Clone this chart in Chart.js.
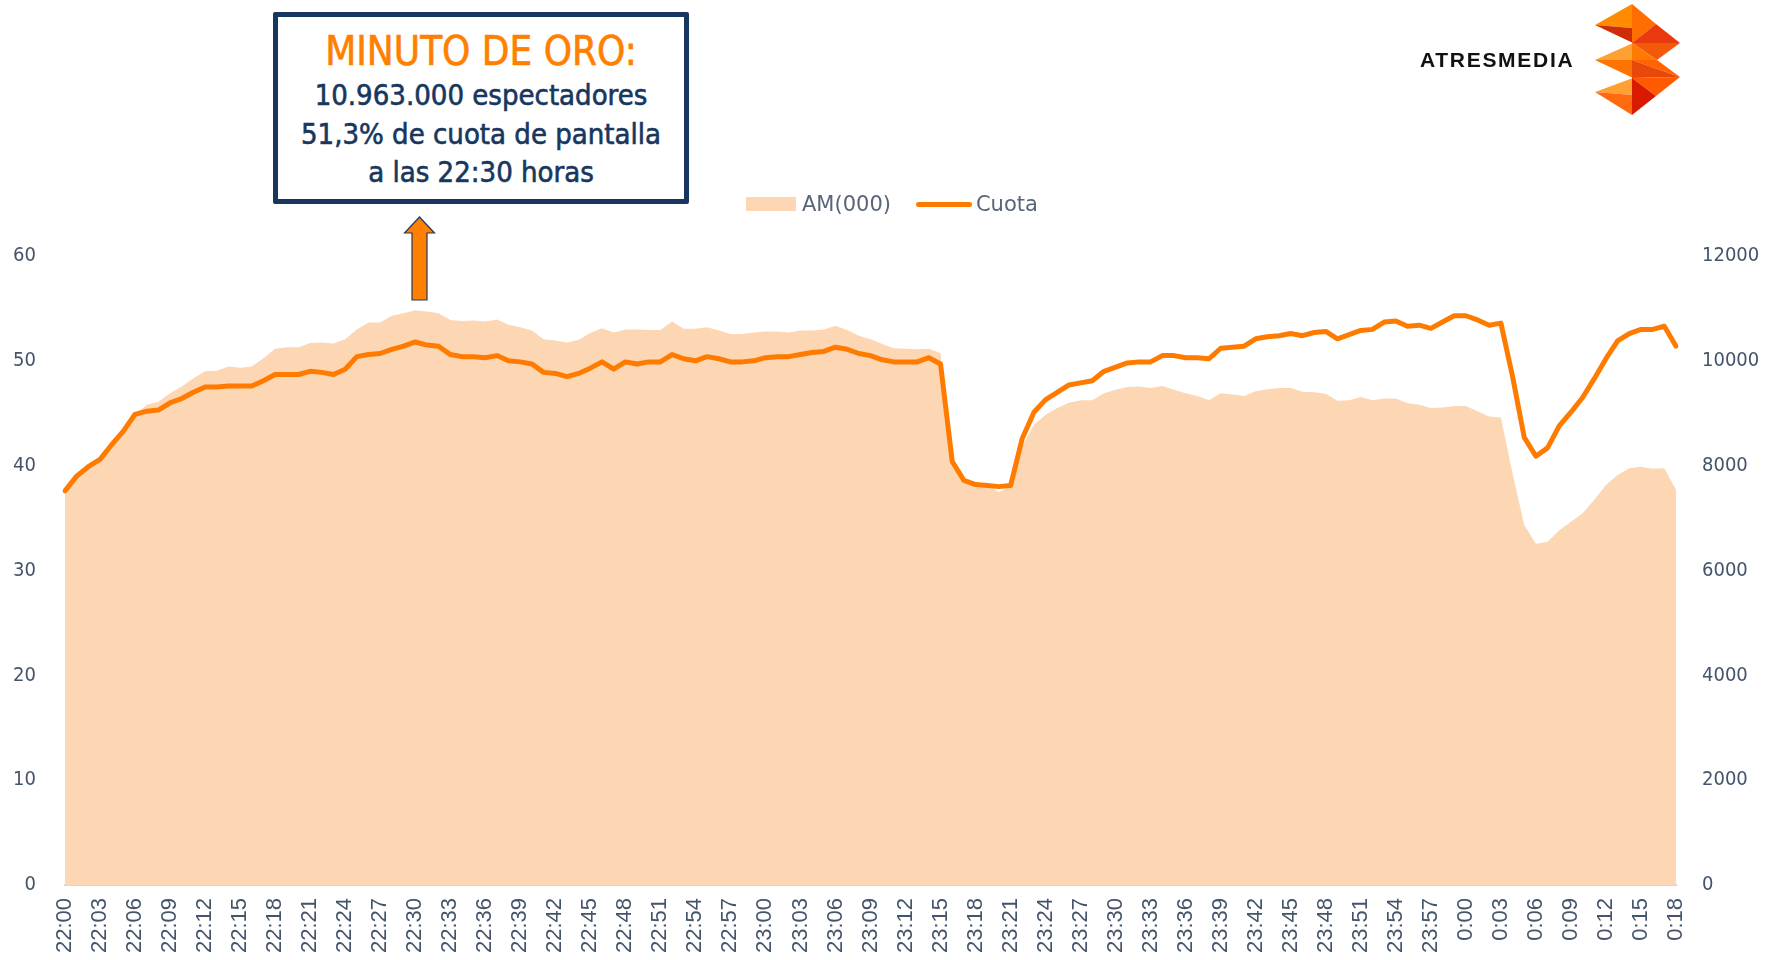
<!DOCTYPE html>
<html><head><meta charset="utf-8">
<script src="https://cdn.jsdelivr.net/npm/chart.js@4.4.1/dist/chart.umd.min.js"></script>
<style>
html,body{margin:0;padding:0;background:#fff;}
#wrap{position:relative;width:1767px;height:960px;overflow:hidden;background:#fff;}
#c{position:absolute;left:0;top:0;}
#box{position:absolute;left:273px;top:12px;width:406px;height:182px;border:5px solid #17375E;border-radius:2px;background:#fff;}
.bl{position:absolute;left:0;width:100%;text-align:center;white-space:nowrap;font-family:"DejaVu Sans Condensed","DejaVu Sans",sans-serif;color:#17375E;-webkit-text-stroke:0.6px currentColor;}
#l1{top:11px;font-size:40px;line-height:46px;color:#FF8000;}
#l2{top:60px;font-size:29px;line-height:36px;}
#l3{top:99px;font-size:29px;line-height:36px;}
#l4{top:137px;font-size:29px;line-height:36px;}
#legend{position:absolute;left:746px;top:189px;height:30px;display:flex;align-items:center;font-family:"DejaVu Sans",sans-serif;font-size:21px;color:#596579;}
.li{display:flex;align-items:center;margin-right:25px;}
.sw{margin-right:6px;}
#brand{position:absolute;left:1420px;top:48px;font-family:"Liberation Sans",Arial,sans-serif;font-weight:bold;font-size:21px;letter-spacing:1.7px;color:#111;}
#ov{position:absolute;left:0;top:0;pointer-events:none;}
</style></head><body>
<div id="wrap">
<canvas id="c" width="1767" height="960"></canvas>
<div id="box">
  <div class="bl" id="l1">MINUTO DE ORO:</div>
  <div class="bl" id="l2">10.963.000 espectadores</div>
  <div class="bl" id="l3">51,3% de cuota de pantalla</div>
  <div class="bl" id="l4">a las 22:30 horas</div>
</div>
<div id="legend"></div>
<div id="brand">ATRESMEDIA</div>
<svg id="ov" width="1767" height="960" viewBox="0 0 1767 960">
  <polygon points="419.5,217 434.5,233 427,233 427,300 412,300 412,233 404.5,233" fill="#FF7F00" stroke="#1F3864" stroke-width="1.2"/>
  <g>
    <polygon points="1595,25 1632,4 1632,28" fill="#FF8C00"/>
    <polygon points="1595,25 1632,28 1633,43" fill="#CF2C08"/>
    <polygon points="1595,60 1633,43 1633,60" fill="#FFA033"/>
    <polygon points="1595,60 1633,60 1633,78" fill="#FF7400"/>
    <polygon points="1595,92 1633,78 1633,95" fill="#FFA033"/>
    <polygon points="1595,92 1633,95 1632,115" fill="#FF6A10"/>
    <polygon points="1632,4 1656,24 1632,43" fill="#FF6E00"/>
    <polygon points="1656,24 1680,43 1632,43" fill="#E83A0E"/>
    <polygon points="1632,43 1680,43 1657,60" fill="#F25A0A"/>
    <polygon points="1632,43 1657,60 1632,60" fill="#FF7A00"/>
    <polygon points="1632,60 1657,60 1680,77" fill="#FF6400"/>
    <polygon points="1632,60 1680,77 1632,78" fill="#E8480A"/>
    <polygon points="1632,78 1680,77 1656,96" fill="#FF5A00"/>
    <polygon points="1632,78 1656,96 1632,115" fill="#D81A00"/>
  </g>
</svg>
</div>
<script>
const categories = ["22:00","22:01","22:02","22:03","22:04","22:05","22:06","22:07","22:08","22:09","22:10","22:11","22:12","22:13","22:14","22:15","22:16","22:17","22:18","22:19","22:20","22:21","22:22","22:23","22:24","22:25","22:26","22:27","22:28","22:29","22:30","22:31","22:32","22:33","22:34","22:35","22:36","22:37","22:38","22:39","22:40","22:41","22:42","22:43","22:44","22:45","22:46","22:47","22:48","22:49","22:50","22:51","22:52","22:53","22:54","22:55","22:56","22:57","22:58","22:59",
"23:00","23:01","23:02","23:03","23:04","23:05","23:06","23:07","23:08","23:09","23:10","23:11","23:12","23:13","23:14","23:15","23:16","23:17","23:18","23:19","23:20","23:21","23:22","23:23","23:24","23:25","23:26","23:27","23:28","23:29","23:30","23:31","23:32","23:33","23:34","23:35","23:36","23:37","23:38","23:39","23:40","23:41","23:42","23:43","23:44","23:45","23:46","23:47","23:48","23:49","23:50","23:51","23:52","23:53","23:54","23:55","23:56","23:57","23:58","23:59",
"0:00","0:01","0:02","0:03","0:04","0:05","0:06","0:07","0:08","0:09","0:10","0:11","0:12","0:13","0:14","0:15","0:16","0:17","0:18"];

const audienceAM = [7500,7800,7970,8120,8390,8650,8970,9160,9220,9380,9510,9670,9800,9810,9890,9870,9890,10050,10230,10260,10260,10340,10350,10330,10410,10600,10730,10730,10860,10910,10963,10940,10910,10780,10760,10770,10750,10790,10690,10640,10580,10410,10390,10350,10400,10530,10620,10540,10600,10600,10590,10590,10750,10610,10610,10640,10580,10510,10510,10540,
10560,10560,10540,10580,10580,10600,10670,10590,10480,10410,10320,10240,10230,10220,10230,10150,8080,7710,7650,7620,7500,7600,8360,8780,8970,9100,9200,9250,9250,9380,9450,9500,9510,9480,9520,9450,9380,9330,9250,9380,9360,9330,9420,9460,9480,9480,9410,9400,9370,9240,9250,9310,9250,9280,9280,9190,9160,9100,9110,9140,
9140,9040,8940,8920,7850,6870,6510,6550,6770,6930,7090,7350,7630,7820,7950,7980,7940,7950,7540];

const shareCuota = [37.6,39.0,39.9,40.6,42.0,43.3,44.9,45.2,45.3,46.0,46.4,47.0,47.5,47.5,47.6,47.6,47.6,48.1,48.7,48.7,48.7,49.0,48.9,48.7,49.2,50.4,50.6,50.7,51.1,51.4,51.8,51.5,51.4,50.6,50.4,50.4,50.3,50.5,50.0,49.9,49.7,48.9,48.8,48.5,48.8,49.3,49.9,49.2,49.9,49.7,49.9,49.9,50.6,50.2,50.0,50.4,50.2,49.9,49.9,50.0,
50.3,50.4,50.4,50.6,50.8,50.9,51.3,51.1,50.7,50.5,50.1,49.9,49.9,49.9,50.3,49.7,40.4,38.6,38.2,38.1,38.0,38.1,42.6,45.1,46.3,47.0,47.7,47.9,48.1,49.0,49.4,49.8,49.9,49.9,50.5,50.5,50.3,50.3,50.2,51.2,51.3,51.4,52.1,52.3,52.4,52.6,52.4,52.7,52.8,52.1,52.5,52.9,53.0,53.7,53.8,53.3,53.4,53.1,53.7,54.3,
54.3,53.9,53.4,53.6,48.5,42.7,40.9,41.7,43.8,45.1,46.5,48.3,50.2,51.9,52.6,53.0,53.0,53.3,51.4];

const seriesNames = ["AM(000)", "Cuota"];
const cuotaAxis = [0, 60, 10];      // min, max, step (left axis)
const amAxis = [0, 12000, 2000];    // min, max, step (right axis)
const labelEvery = 3;

const areaColor = "#FDD7B4";
const lineColor = "#FF7B00";
const tickColor = "#44546A";

const chart = new Chart(document.getElementById("c").getContext("2d"), {
  type: "line",
  data: {
    labels: categories,
    datasets: [
      { label: seriesNames[0], data: audienceAM, yAxisID: "yR", fill: "origin",
        backgroundColor: areaColor, borderColor: "rgba(0,0,0,0)", borderWidth: 0,
        pointRadius: 0, tension: 0, order: 2 },
      { label: seriesNames[1], data: shareCuota, yAxisID: "yL", fill: false,
        borderColor: lineColor, borderWidth: 5, pointRadius: 0, tension: 0,
        borderJoinStyle: "round", borderCapStyle: "round", order: 1 }
    ]
  },
  options: {
    responsive: false,
    animation: false,
    layout: { padding: { top: 256, left: 0, right: 0, bottom: 0 } },
    plugins: { legend: { display: false }, tooltip: { enabled: false } },
    scales: {
      x: {
        type: "category", offset: false,
        grid: { display: false, drawTicks: false },
        border: { display: true, color: "#D6D6D6", width: 2 },
        ticks: {
          autoSkip: false, maxRotation: 90, minRotation: 90, padding: 13,
          color: tickColor, font: { family: "Liberation Sans", size: 22 },
          callback: (v, i) => (i % labelEvery === 0 ? categories[i] : "")
        },
        afterFit: s => { s.height = 75; }
      },
      yL: {
        position: "left", min: cuotaAxis[0], max: cuotaAxis[1],
        grid: { display: false, drawTicks: false }, border: { display: false },
        ticks: { stepSize: cuotaAxis[2], padding: 29, color: tickColor,
                 font: { family: "DejaVu Sans Condensed", size: 20 },
                 callback: v => String(v) },
        afterFit: s => { s.width = 65; }
      },
      yR: {
        position: "right", min: amAxis[0], max: amAxis[1],
        grid: { display: false, drawTicks: false }, border: { display: false },
        ticks: { stepSize: amAxis[2], padding: 26, color: tickColor,
                 font: { family: "DejaVu Sans Condensed", size: 20 },
                 callback: v => String(v) },
        afterFit: s => { s.width = 91; }
      }
    }
  }
});

// HTML legend built from the chart's datasets
const lg = document.getElementById("legend");
chart.data.datasets.forEach((ds, i) => {
  const item = document.createElement("div");
  item.className = "li";
  const sw = document.createElement("span");
  sw.className = "sw";
  if (ds.fill) {
    sw.style.cssText = "display:inline-block;width:50px;height:14px;background:" + ds.backgroundColor;
  } else {
    sw.style.cssText = "display:inline-block;width:56px;height:5px;border-radius:3px;margin-right:4px;background:" + ds.borderColor;
  }
  const tx = document.createElement("span");
  tx.textContent = ds.label;
  item.appendChild(sw); item.appendChild(tx);
  lg.appendChild(item);
});
</script>
</body></html>
